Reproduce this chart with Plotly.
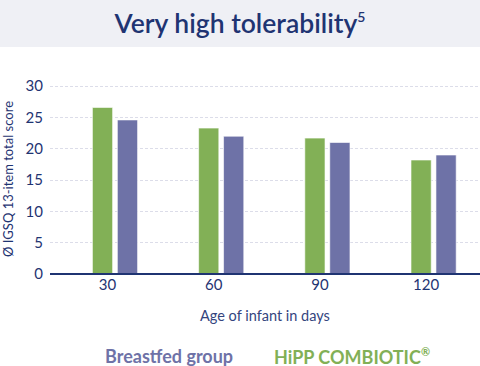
import plotly.graph_objects as go

categories = ["30", "60", "90", "120"]
hipp_combiotic = [26.6, 23.3, 21.7, 18.2]
breastfed = [24.6, 22.0, 21.0, 19.0]
y_ticks = [0, 5, 10, 15, 20, 25, 30]

NAVY = "#1f3472"
GREEN = "#82b056"
PURPLE = "#6e72a7"
FONT = "Lato, 'Open Sans', sans-serif"

xpos = list(range(len(categories)))

fig = go.Figure()
fig.add_trace(go.Bar(x=xpos, y=hipp_combiotic, name="HiPP COMBIOTIC®",
                     marker=dict(color=GREEN, line=dict(color="rgba(255,255,255,0.6)", width=1))))
fig.add_trace(go.Bar(x=xpos, y=breastfed, name="Breastfed group",
                     marker=dict(color=PURPLE, line=dict(color="rgba(255,255,255,0.6)", width=1))))

W, H = 480, 366
ml, mr, mt, mb = 50, 0, 83, 92
pw = W - ml - mr
ph = H - mt - mb

def px_to_paper_y(py):
    return (H - mb - py) / ph

def px_to_paper_x(px):
    return (px - ml) / pw

fig.update_layout(
    width=W, height=H,
    margin=dict(l=ml, r=mr, t=mt, b=mb),
    paper_bgcolor="white", plot_bgcolor="white",
    barmode="group", bargap=0.53, bargroupgap=0.19,
    showlegend=False,
    font=dict(family=FONT, color=NAVY),
    title=dict(text="Very high tolerability<sup><span style='font-size:14px'>5</span></sup>",
               x=0.5, xanchor="center",
               xref="container", yref="container", y=1 - 24 / H, yanchor="middle",
               font=dict(size=26.5, color=NAVY, family=FONT, weight=600)),
    xaxis=dict(range=[-0.612, 3.437], tickmode="array",
               tickvals=[i - 0.07 for i in xpos], ticktext=categories,
               showgrid=False, zeroline=False, showline=False, ticks="",
               tickfont=dict(size=15, color=NAVY)),
    yaxis=dict(range=[0, 30.5], tickvals=y_ticks, showgrid=True,
               gridcolor="#dcdde9", griddash="3px,2px", gridwidth=1,
               zeroline=True, zerolinecolor=NAVY, zerolinewidth=2,
               showline=False, ticks="", ticklabelstandoff=6,
               tickfont=dict(size=15, color=NAVY)),
    shapes=[
        dict(type="rect", xref="paper", yref="paper",
             x0=px_to_paper_x(0), x1=px_to_paper_x(W),
             y0=px_to_paper_y(47), y1=px_to_paper_y(0),
             fillcolor="#eff0f5", line=dict(width=0), layer="below"),
        dict(type="line", xref="paper", yref="paper", x0=0, x1=1, y0=0, y1=0,
             line=dict(color=NAVY, width=2)),
    ],
    annotations=[
        dict(text="Age of infant in days", xref="paper", yref="paper",
             x=px_to_paper_x(265), y=px_to_paper_y(315), showarrow=False,
             xanchor="center", yanchor="middle", font=dict(size=14.5, color="#34457e")),
        dict(text="Ø IGSQ 13-item total score", xref="paper", yref="paper",
             x=px_to_paper_x(8), y=px_to_paper_y(179), showarrow=False, textangle=-90,
             xanchor="center", yanchor="middle", font=dict(size=13, color=NAVY)),
        dict(text="<b>Breastfed group</b>", xref="paper", yref="paper",
             x=px_to_paper_x(169), y=px_to_paper_y(356), showarrow=False,
             xanchor="center", yanchor="middle", font=dict(size=18, color=PURPLE)),
        dict(text="<b>HiPP COMBIOTIC<sup><span style='font-size:11px'>®</span></sup></b>",
             xref="paper", yref="paper",
             x=px_to_paper_x(352), y=px_to_paper_y(356), showarrow=False,
             xanchor="center", yanchor="middle", font=dict(size=18, color=GREEN)),
    ],
)

fig.write_html("out.html", config={"displayModeBar": False},
               post_script="document.body.style.margin='0';document.body.style.overflow='hidden';")
